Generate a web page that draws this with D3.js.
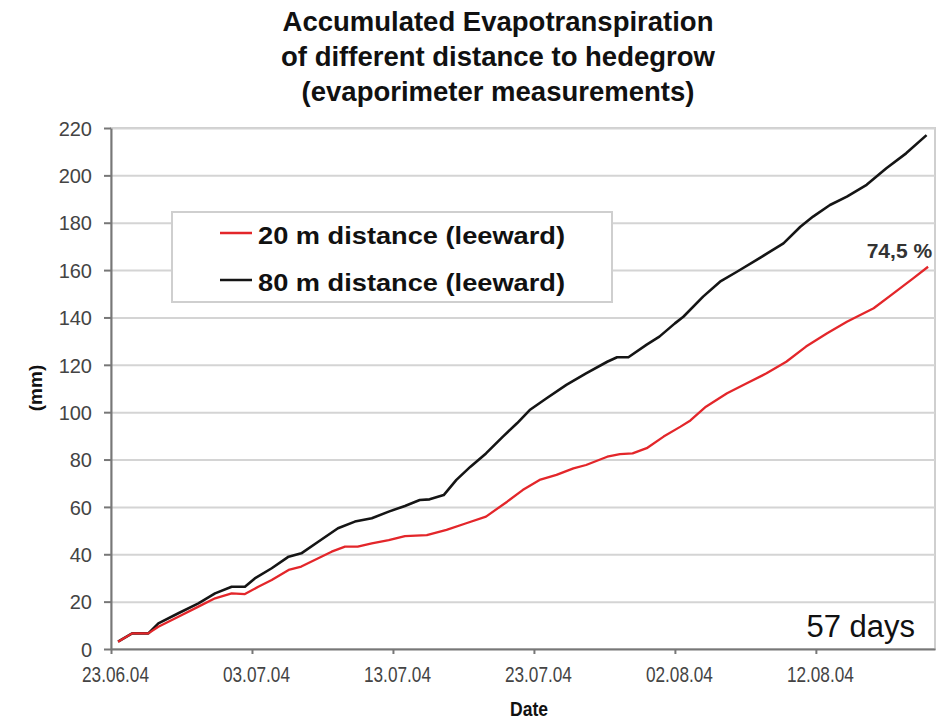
<!DOCTYPE html>
<html>
<head>
<meta charset="utf-8">
<script src="https://cdn.jsdelivr.net/npm/d3@7"></script>
<style>
  body { margin: 0; background: #fff; }
  svg { display: block; font-family: 'Liberation Sans', Arial, sans-serif; }
</style>
</head>
<body>
<div id="chart"></div>
<script>
// days after 23.06.04 and accumulated ET in mm
const blackDays = [0.5, 1.5, 2.65, 3.36, 4.78, 6.2, 7.38, 8.56, 9.5, 10.2, 11.4, 12.6, 13.5, 14.7, 16.1, 17.3, 18.5, 19.7, 20.85, 21.9, 22.6, 23.6, 24.5, 25.5, 26.6, 27.8, 28.8, 29.7, 30.9, 32.3, 33.7, 35.2, 35.9, 36.7, 38.0, 38.9, 40.0, 40.6, 42.0, 43.2, 44.4, 45.8, 47.7, 48.9, 49.8, 51.0, 52.2, 53.6, 55.0, 56.4, 57.85];
const blackValues = [3.1, 6.6, 6.6, 10.8, 15.1, 19.3, 23.5, 26.3, 26.3, 29.8, 34.1, 39.0, 40.4, 45.3, 51.0, 53.8, 55.2, 58.0, 60.4, 62.9, 63.2, 65.0, 71.4, 77.0, 82.6, 89.7, 95.3, 100.9, 105.9, 111.5, 116.4, 121.3, 123.2, 123.2, 128.5, 131.9, 137.5, 140.3, 148.8, 155.1, 159.3, 164.3, 171.3, 178.3, 182.6, 187.5, 191.0, 196.0, 203.0, 209.3, 217.0];

const redDays = [0.5, 1.5, 2.65, 3.36, 4.78, 6.2, 7.38, 8.56, 9.5, 10.45, 11.4, 12.6, 13.5, 14.7, 15.65, 16.6, 17.5, 18.5, 19.7, 20.85, 22.4, 23.8, 25.2, 26.6, 28.1, 29.2, 30.4, 31.6, 32.8, 33.7, 35.2, 36.1, 37.0, 38.0, 39.2, 40.4, 41.1, 42.2, 43.7, 45.1, 46.5, 47.9, 49.3, 50.8, 52.2, 54.1, 55.5, 56.9, 57.96];
const redValues = [3.1, 6.6, 6.6, 9.4, 13.6, 17.9, 21.4, 23.5, 23.2, 26.3, 29.1, 33.4, 34.8, 38.3, 41.1, 43.2, 43.2, 44.6, 46.0, 47.7, 48.1, 50.3, 53.1, 55.9, 62.2, 67.1, 71.4, 73.5, 76.3, 77.7, 81.2, 82.3, 82.6, 84.8, 89.7, 93.9, 96.5, 102.3, 108.0, 112.2, 116.4, 121.3, 127.7, 133.3, 138.2, 143.9, 150.2, 156.5, 161.4];

const xTickLabels = ['23.06.04', '03.07.04', '13.07.04', '23.07.04', '02.08.04', '12.08.04'];
const yTicks = [0, 20, 40, 60, 80, 100, 120, 140, 160, 180, 200, 220];

const seriesNames = ['20 m distance (leeward)', '80 m distance (leeward)'];
const seriesColors = ['#e3262a', '#151515'];
const titleLines = ['Accumulated Evapotranspiration', 'of different distance to hedegrow', '(evaporimeter measurements)'];

const W = 946, H = 719;
const margin = { top: 128, right: 11, bottom: 70, left: 111 };
const width = W - margin.left - margin.right;
const height = H - margin.top - margin.bottom;

const parse = d3.timeParse('%d.%m.%y');
const start = parse(xTickLabels[0]);
const dayToDate = d => new Date(start.getTime() + d * 864e5);

const svg = d3.select('#chart').append('svg')
  .attr('width', W)
  .attr('height', H);

const g = svg.append('g').attr('transform', `translate(${margin.left},${margin.top})`);

const x = d3.scaleTime()
  .domain([start, dayToDate(58.45)])
  .range([0, width]);

const y = d3.scaleLinear()
  .domain([0, 220])
  .range([height, 0]);

// frame + grid
g.append('rect')
  .attr('width', width).attr('height', height)
  .attr('fill', '#fff').attr('stroke', '#cfcfcf').attr('stroke-width', 2);

g.append('g')
  .attr('class', 'grid')
  .call(d3.axisLeft(y).tickValues(yTicks.slice(1)).tickSize(-width).tickFormat(() => ''))
  .call(s => s.select('.domain').remove())
  .selectAll('line')
  .attr('stroke', '#d4d4d4')
  .attr('stroke-width', 2);

// axes
const yAxis = g.append('g')
  .call(d3.axisLeft(y).tickValues(yTicks).tickSize(7).tickPadding(12).tickSizeOuter(0));
yAxis.select('.domain').attr('stroke', '#777').attr('stroke-width', 2);
yAxis.selectAll('line').attr('stroke', '#777').attr('stroke-width', 2);
yAxis.selectAll('text')
  .attr('fill', '#444')
  .style('font-size', '20px')
  .attr('dy', '0.36em');

const xAxis = g.append('g')
  .attr('transform', `translate(0,${height})`)
  .call(d3.axisBottom(x).tickValues(xTickLabels.map(parse)).tickFormat(d3.timeFormat('%d.%m.%y')).tickSize(5).tickSizeOuter(0));
xAxis.select('.domain').attr('stroke', '#777').attr('stroke-width', 2);
xAxis.selectAll('line').attr('stroke', '#777').attr('stroke-width', 2);
xAxis.selectAll('text')
  .attr('fill', '#444')
  .style('font-size', '22px')
  .attr('y', 33)
  .attr('dy', 0)
  .attr('dx', 4)
  .attr('textLength', 67)
  .attr('lengthAdjust', 'spacingAndGlyphs');

// lines
const line = d3.line()
  .x(d => x(dayToDate(d[0])))
  .y(d => y(d[1]));

const blackData = d3.zip(blackDays, blackValues);
const redData = d3.zip(redDays, redValues);

g.append('path')
  .datum(blackData)
  .attr('fill', 'none')
  .attr('stroke', seriesColors[1])
  .attr('stroke-width', 2.6)
  .attr('stroke-linejoin', 'round')
  .attr('d', line);

g.append('path')
  .datum(redData)
  .attr('fill', 'none')
  .attr('stroke', seriesColors[0])
  .attr('stroke-width', 2.3)
  .attr('stroke-linejoin', 'round')
  .attr('d', line);

// end annotation
const lastRed = redData[redData.length - 1];
g.append('text')
  .attr('x', x(dayToDate(lastRed[0])) + 4)
  .attr('y', y(lastRed[1]) - 9)
  .attr('text-anchor', 'end')
  .attr('fill', '#333')
  .style('font-size', '21px')
  .style('font-weight', 'bold')
  .text('74,5 %');

g.append('text')
  .attr('x', width - 20)
  .attr('y', height - 12)
  .attr('text-anchor', 'end')
  .attr('fill', '#111')
  .style('font-size', '31px')
  .text('57 days');

// legend
const legend = svg.append('g').attr('transform', 'translate(172,212)');
legend.append('rect')
  .attr('width', 440).attr('height', 90)
  .attr('fill', '#fff').attr('stroke', '#cfcfcf').attr('stroke-width', 2);

seriesNames.forEach((name, i) => {
  const ly = 21 + i * 47;
  legend.append('line')
    .attr('x1', 48).attr('x2', 80)
    .attr('y1', ly).attr('y2', ly)
    .attr('stroke', seriesColors[i]).attr('stroke-width', 2.5);
  legend.append('text')
    .attr('x', 86)
    .attr('y', ly + 11)
    .attr('fill', '#111')
    .style('font-size', '24px')
    .style('font-weight', 'bold')
    .attr('textLength', 307)
    .attr('lengthAdjust', 'spacingAndGlyphs')
    .text(name);
});

// title
svg.append('g').selectAll('text')
  .data(titleLines)
  .join('text')
  .attr('x', 498)
  .attr('y', (d, i) => 31 + i * 35)
  .attr('text-anchor', 'middle')
  .attr('fill', '#111')
  .style('font-size', '27.5px')
  .style('font-weight', 'bold')
  .text(d => d);

// axis titles
svg.append('text')
  .attr('x', 529)
  .attr('y', 716)
  .attr('text-anchor', 'middle')
  .attr('fill', '#111')
  .style('font-size', '20px')
  .style('font-weight', 'bold')
  .attr('textLength', 38)
  .attr('lengthAdjust', 'spacingAndGlyphs')
  .text('Date');

svg.append('text')
  .attr('transform', 'translate(42,388) rotate(-90)')
  .attr('text-anchor', 'middle')
  .attr('fill', '#111')
  .style('font-size', '19px')
  .style('font-weight', 'bold')
  .text('(mm)');
</script>
</body>
</html>
